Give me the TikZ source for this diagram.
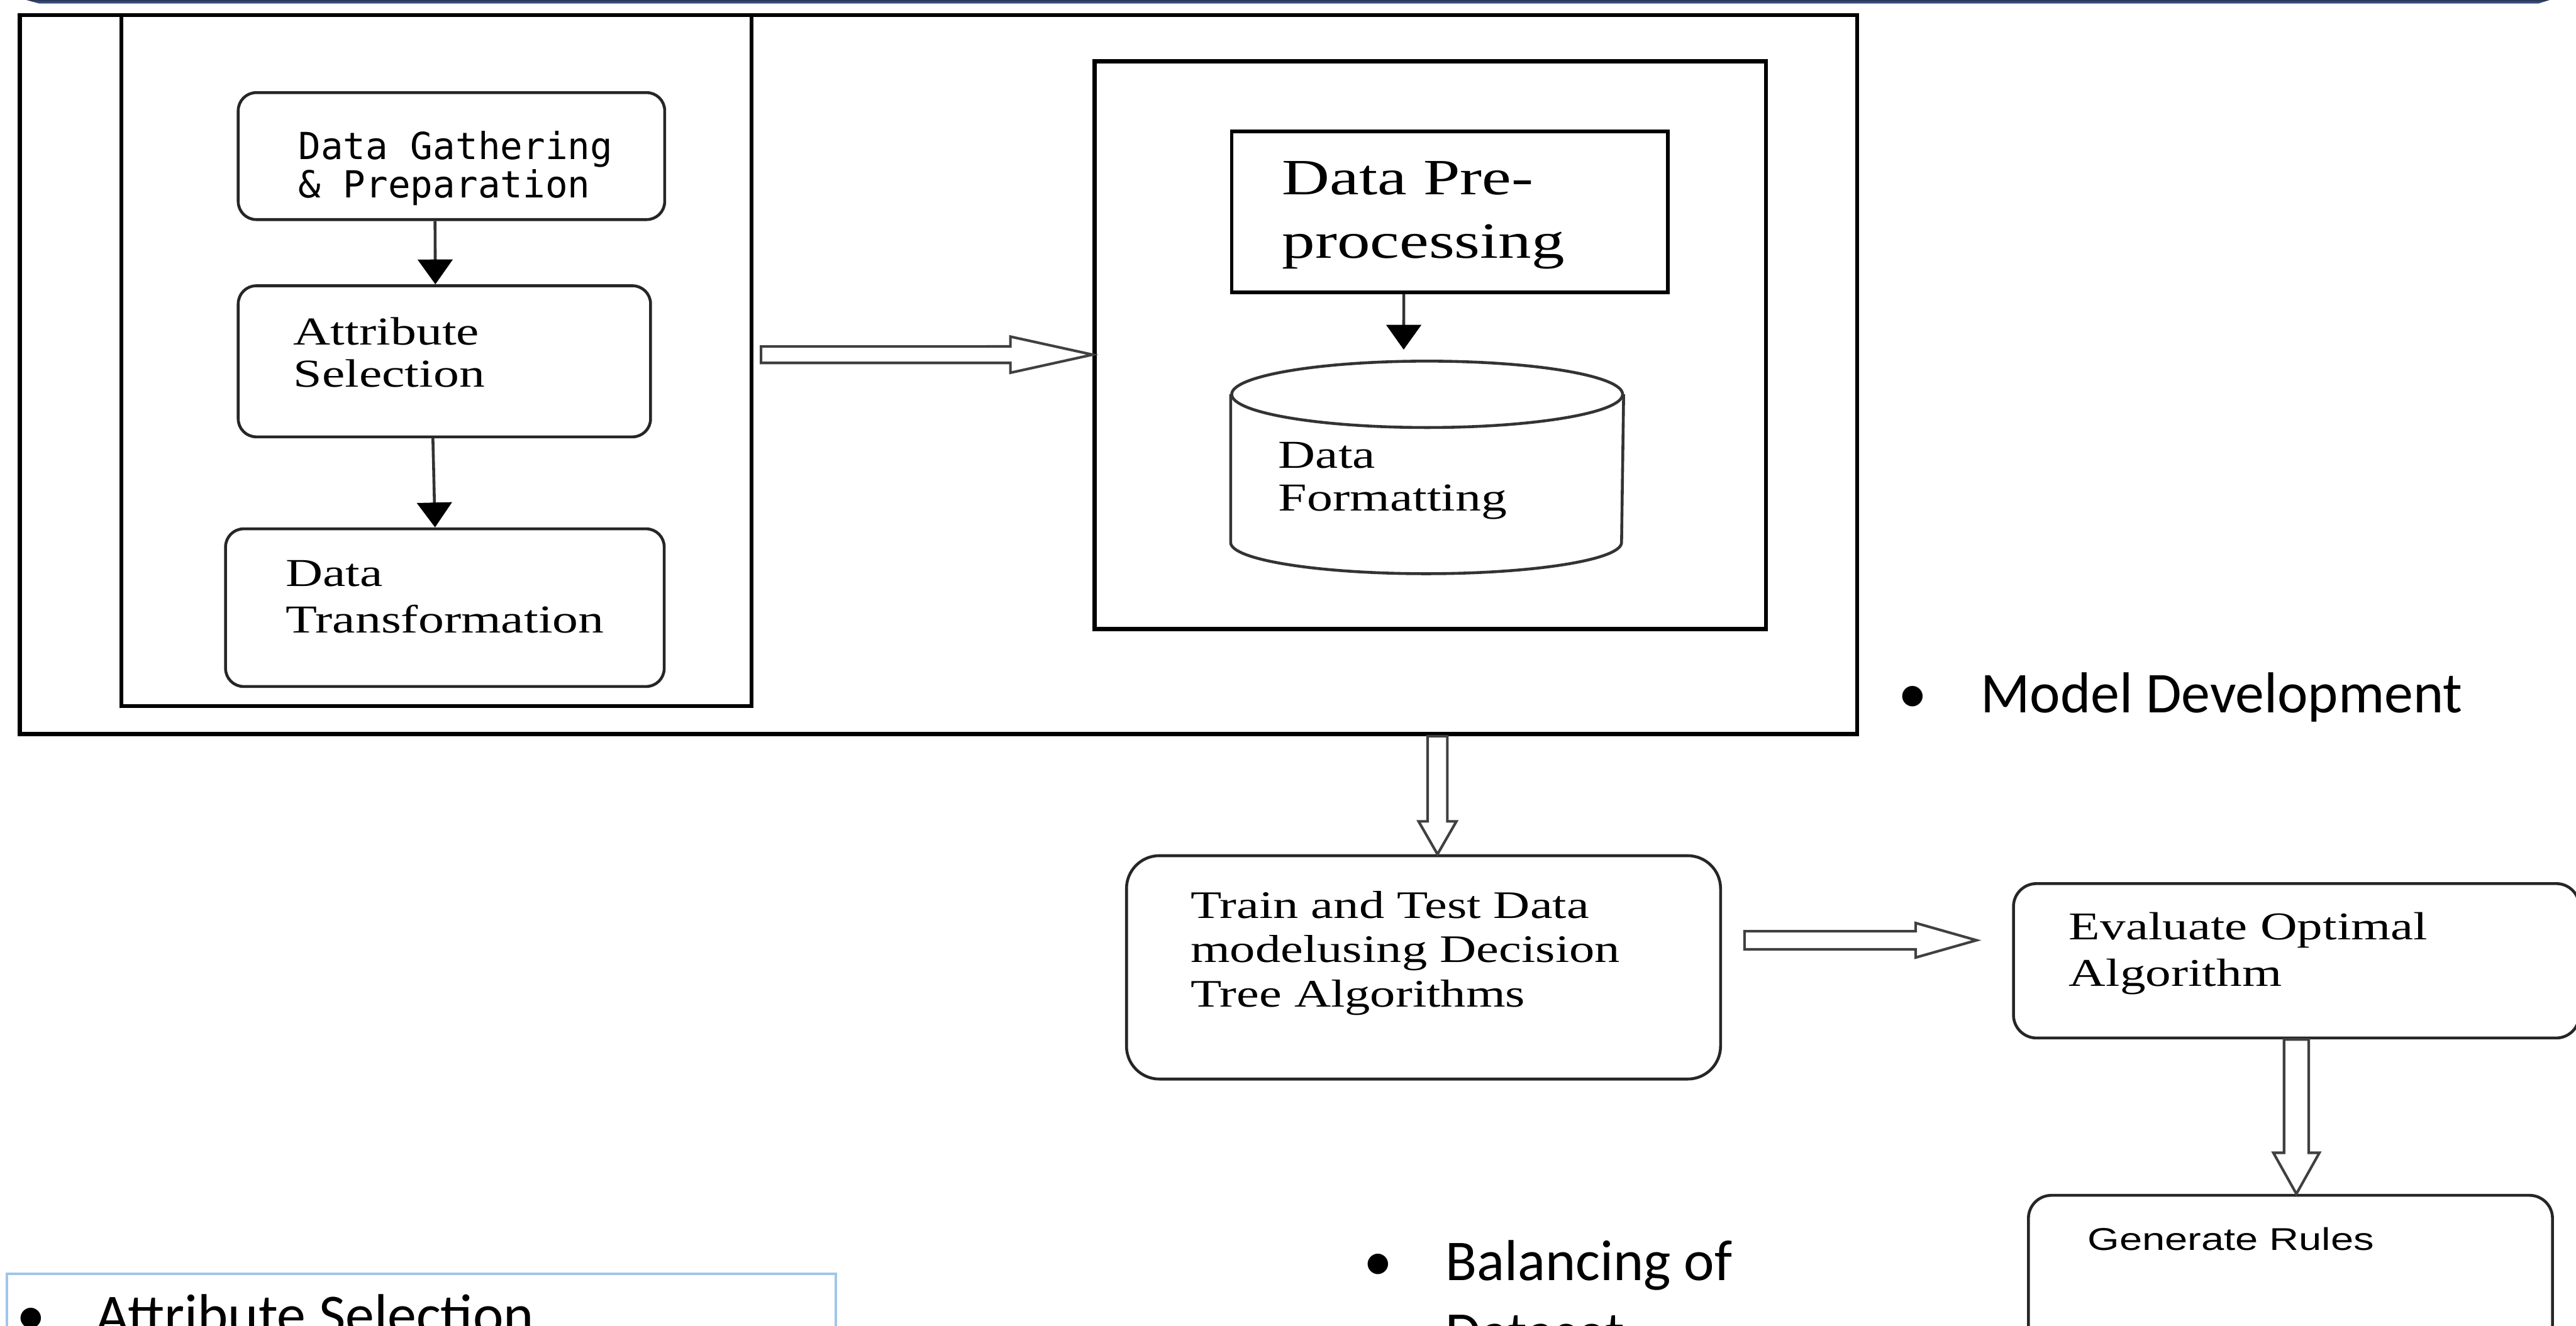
\documentclass[tikz,border=0pt]{standalone}
\usepackage{fontspec}
\setmainfont{Liberation Serif}
\newfontfamily\wideserif[FakeStretch=1.3]{Liberation Serif}
\newfontfamily\widesans[FakeStretch=1.3]{Liberation Sans}
\newfontfamily\gathfont{DejaVu Sans Mono}
\newfontfamily\slidefont{Carlito}
\usetikzlibrary{fit}
\usetikzlibrary{calc}
\usetikzlibrary{arrows.meta}
\definecolor{bandtop}{RGB}{42,54,82}
\definecolor{bandbot}{RGB}{62,94,158}
\definecolor{slideblue}{RGB}{160,198,232}

\tikzset{
  hollowarrow/.style n args={3}{draw=black!75, line width=0.45pt, fill=white,
    to path={let \p1=(\tikztostart), \p2=(\tikztotarget),
      \n1={atan2(\y2-\y1,\x2-\x1)}, \n2={veclen(\x2-\x1,\y2-\y1)} in
      ($(\p1)+(\n1+90:#1)$) -- ($(\p1)+(\n1:{\n2-#3})+(\n1+90:#1)$)
      -- ($(\p1)+(\n1:{\n2-#3})+(\n1+90:#2)$) -- (\p2)
      -- ($(\p1)+(\n1:{\n2-#3})+(\n1-90:#2)$) -- ($(\p1)+(\n1:{\n2-#3})+(\n1-90:#1)$)
      -- ($(\p1)+(\n1-90:#1)$) -- cycle}}
}

\begin{document}
\begin{tikzpicture}[x=0.01cm, y=-0.01cm,
    frame/.style={draw, line width=0.7pt, rectangle, inner sep=0pt},
    roundbox/.style={draw=black!85, line width=0.5pt, rounded corners=#1, inner sep=0pt},
    roundbox/.default=0.11cm,
    boxtxt/.style={inner sep=0pt, anchor=north west, align=left},
    slidetxt/.style={inner sep=0pt, font=\slidefont\fontsize{10}{12.35}\selectfont},
    flow/.style={draw=black!80, line width=0.5pt, -{Triangle[width=6pt,length=4.3pt,color=black]}},
    cylline/.style={draw=black!80, line width=0.5pt}]

  \useasboundingbox (0,0) rectangle (1568,807);
  \clip (0,0) rectangle (1568,807);

  \shade[top color=bandtop, bottom color=bandbot] (16,0) -- (1552,0) -- (1545,2.2) -- (24,2.2) -- cycle;

  \begin{scope}
    \node[frame, fit={(12,9.2) (1130.5,447)}] (outer) {};
    \node[frame, fit={(73.8,9.2) (457.5,430)}] (inleft) {};
    \node[frame, fit={(666.3,37.3) (1075,383)}] (inright) {};

    \node[roundbox, fit={(145,56.4) (404.6,133.7)}] (gather) {};
    \node[roundbox, fit={(145,174) (396,266)}] (attrsel) {};
    \node[roundbox, fit={(137.3,322) (404.3,418)}] (transf) {};
    \node[boxtxt, font=\gathfont\fontsize{6.45}{6.6}\selectfont] (gathertext) at (181,79.2) {Data Gathering\\\& Preparation};
    \node[boxtxt, font=\wideserif\fontsize{6.85}{7.3}\selectfont] (attrtext) at (178,192.5) {Attribute\\Selection};
    \node[boxtxt, font=\wideserif\fontsize{6.85}{8.05}\selectfont] (transtext) at (173.3,340.5) {Data\\Transformation};
    \draw[flow] ($(gather.south)+(-10,0)$) -- ($(attrsel.north)+(-5.5,0)$);
    \draw[flow] ($(attrsel.south)+(-7,0)$) -- ($(transf.north)+(-6,0)$);

    \node[frame, line width=0.6pt, fit={(749.8,80) (1015.2,178)}] (preproc) {};
    \node[inner sep=0pt, fit={(749.8,220.6) (987.6,348.6)}] (formatting) {};
    \draw[cylline] ($(formatting.north)+(0,20.2)$) ellipse [x radius=1.189cm, y radius=0.202cm];
    \draw[cylline] ($(formatting.north west)+(0,20.2)$) -- ($(formatting.south west)+(0,-19)$)
      arc[start angle=180, end angle=360, x radius=1.189cm, y radius=0.19cm] -- ($(formatting.north east)+(0,20.2)$);
    \node[boxtxt, font=\wideserif\fontsize{8.8}{11}\selectfont] (preptext) at (779.7,97.5) {Data Pre-\\processing};
    \node[boxtxt, font=\wideserif\fontsize{6.85}{7.4}\selectfont] (fmttext) at (777.5,268.7) {Data\\Formatting};
    \draw[flow] ($(preproc.south)+(-28,0)$) -- ($(formatting.north)+(-14.3,-7)$);
  \end{scope}

  \begin{scope}
    \node[roundbox=0.2cm, fit={(685.7,521) (1047.3,657)}] (train) {};
    \node[roundbox=0.14cm, fit={(1225.6,538) (1570,632)}] (evalalg) {};
    \node[roundbox=0.14cm, fit={(1234.7,727.8) (1553.7,840)}] (genrules) {};
    \node[boxtxt, font=\wideserif\fontsize{6.75}{7.7}\selectfont] (traintext) at (724,541.8) {Train and Test Data\\modelusing Decision\\Tree Algorithms};
    \node[boxtxt, font=\wideserif\fontsize{6.8}{8.1}\selectfont] (evaltext) at (1258.7,554.7) {Evaluate Optimal\\Algorithm};
    \node[boxtxt, font=\widesans\fontsize{5.45}{6.5}\selectfont] (gentext) at (1270,746.7) {Generate Rules};
  \end{scope}

  \coordinate (a1s) at ($(inleft.east)+(4.5,-3.6)$);
  \coordinate (a1e) at ($(inright.west)+(0,5.8)$);
  \coordinate (a2s) at ($(outer.south -| train.north)+(8.5,0)$);
  \coordinate (a2e) at ($(train.north)+(8.5,0)$);
  \coordinate (a3s) at ($(train.east)+(13.7,-16.5)$);
  \coordinate (a3e) at ($(evalalg.west)+(-21.6,-12.5)$);
  \coordinate (a4e) at (evalalg.south |- genrules.north);
  \draw[hollowarrow={0.05cm}{0.11cm}{0.5cm}] (a1s) to (a1e);
  \draw[hollowarrow={0.06cm}{0.115cm}{0.2cm}] (a2s) to (a2e);
  \draw[hollowarrow={0.055cm}{0.105cm}{0.37cm}] (a3s) to (a3e);
  \draw[hollowarrow={0.075cm}{0.14cm}{0.25cm}] (evalalg.south) to (a4e);

  \node[slidetxt, anchor=base west] (modeltext) at (1155,434.1) {\makebox[14.2pt][l]{•}Model Development};
  \node[slidetxt, anchor=north west, align=left] (balancetext) at (829.5,754.6) {\makebox[14.1pt][l]{•}Balancing of\\\hspace*{14.1pt}Dataset};
  \node[draw=slideblue, line width=0.4pt, inner sep=0pt, fit={(4.3,775.6) (508.8,840)}] (attrbox) {};
  \node[slidetxt, anchor=base west] (attrlisttext) at (9.5,812.5) {\makebox[13.7pt][l]{•}Attribute Selection};
\end{tikzpicture}
\end{document}
